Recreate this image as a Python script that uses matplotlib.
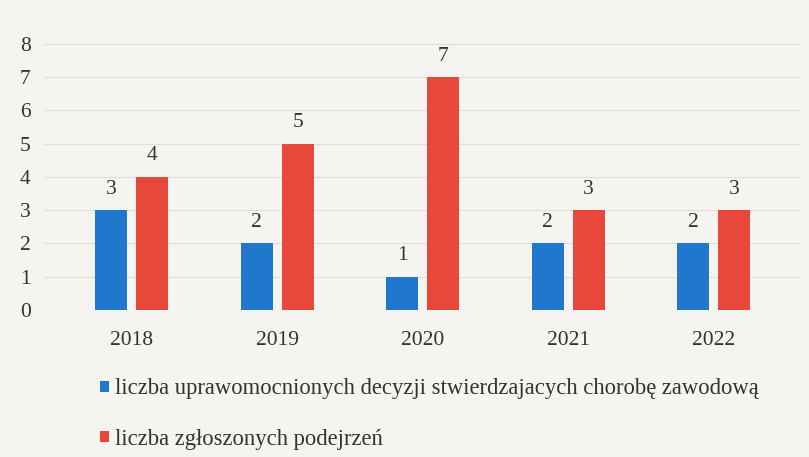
import matplotlib.pyplot as plt
import numpy as np

years = ["2018", "2019", "2020", "2021", "2022"]
decyzje = [3, 2, 1, 2, 2]
zgloszenia = [4, 5, 7, 3, 3]
labels = ["liczba uprawomocnionych decyzji stwierdzajacych chorobę zawodową",
          "liczba zgłoszonych podejrzeń"]

plt.rcParams['font.family'] = ['Liberation Serif', 'DejaVu Serif']

blue = "#1f78cc"
red = "#e8483a"
bg = "#f6f4f0"

fig = plt.figure(figsize=(8.09, 4.57), dpi=100, facecolor=bg)
ax = fig.add_axes([0.055, 0.3217, 0.935, 0.604])
ax.set_facecolor(bg)

x = np.arange(len(years))
w = 0.22
off = 0.141
b1 = ax.bar(x - off, decyzje, w, color=blue, zorder=3)
b2 = ax.bar(x + off, zgloszenia, w, color=red, zorder=3)

for i in range(len(years)):
    ax.text(x[i] - off, decyzje[i] + 0.35, str(decyzje[i]), ha='center', va='bottom',
            fontsize=15.5, color="#333333")
    ax.text(x[i] + off, zgloszenia[i] + 0.35, str(zgloszenia[i]), ha='center', va='bottom',
            fontsize=15.5, color="#333333")

ax.set_xlim(-0.6, 4.6)
ax.set_ylim(0, 8.3)
ax.set_yticks(range(0, 9))
ax.set_xticks(x)
ax.set_xticklabels(years)
ax.tick_params(axis='both', length=0, labelsize=15.5, colors="#333333")
ax.tick_params(axis='x', pad=15)
ax.tick_params(axis='y', pad=10)
ax.grid(axis='y', color="#e2ded6", linewidth=0.8, zorder=0)
for s in ax.spines.values():
    s.set_visible(False)

fig.legend([b1, b2], labels, loc='upper left', bbox_to_anchor=(0.1236, 0.172),
           frameon=False, fontsize=16.3, handlelength=0.4, handleheight=0.4,
           handletextpad=0.25, labelspacing=1.3, borderaxespad=0, borderpad=0,
           labelcolor="#333333")

fig.savefig("out.png", dpi=100, facecolor=bg)
